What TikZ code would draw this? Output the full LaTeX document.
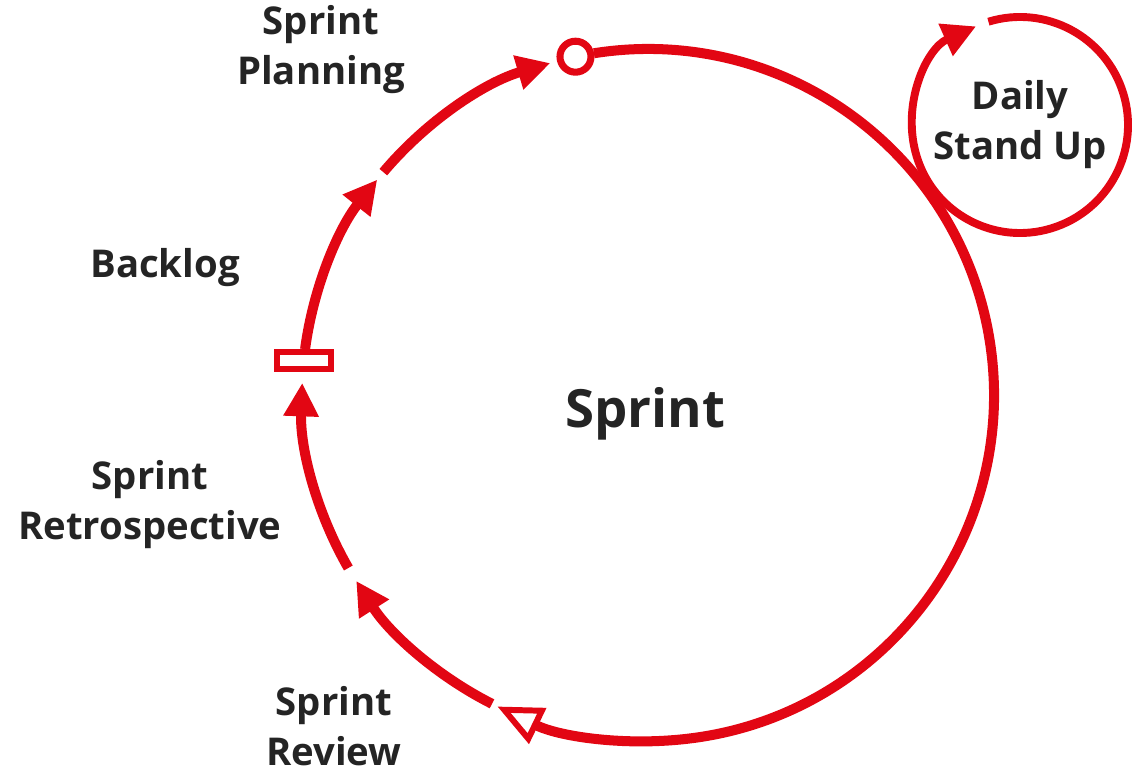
\documentclass[tikz,border=0pt]{standalone}
\usepackage{fontspec}
\setmainfont{Open Sans}
\usetikzlibrary{positioning,
        calc,
        shapes,
        arrows.meta}
\usepackage{xcolor}
\definecolor{sprintred}{RGB}{226,6,19}
\definecolor{inkgray}{RGB}{36,36,36}

\begin{document}
\begin{tikzpicture}[
    loopline/.style={draw=sprintred, line width=5.7pt},
    headtip/.style={-{Triangle[length=19pt,width=19pt]}},
    lbl/.style={align=center, text=inkgray, font=\fontsize{21.8}{28.5}\selectfont\bfseries}
  ]
  \useasboundingbox (0,0) rectangle (22.92,15.46);
  \def\R{6.92}
  \def\r{2.16}
  \coordinate (sprintc) at (12.96,7.56);
  \node [lbl, font=\fontsize{30}{36}\selectfont\bfseries] (sprint) at (12.9,7.18) {Sprint};

  % big loop: review -> retrospective -> backlog -> planning
  \coordinate (loopstart) at ([shift={(99:\R)}]sprintc);
  \draw [loopline, -{Triangle[open, length=25.5pt, width=22pt, line width=3.4pt]}] (loopstart) arc[start angle=99, end angle=-115.8, radius=\R];
  \foreach \a/\b in {-116.8/-147.5, -150/-182, 172.4/141.5, 139.9/106.4}
    \draw [loopline, headtip] ([shift={(\a:\R)}]sprintc) arc[start angle=\a, end angle=\b, radius=\R];

  % markers
  \node [circle, draw=sprintred, fill=white, line width=4pt, minimum size=0.62cm, inner sep=0pt] (planmark) at ([shift={(102.1:\R)}]sprintc) {};
  \node [rectangle, draw=sprintred, fill=white, line width=3.4pt, minimum width=1.08cm, minimum height=0.34cm, inner sep=0pt] (backmark) at ([shift={(174.3:\R)}]sprintc) {};

  % daily loop
  \node [lbl] (daily) at (20.4,12.96) {Daily\\Stand Up};
  \draw [draw=sprintred, line width=4.5pt, headtip] ([shift={(107:\r)}]daily.center) arc[start angle=107, end angle=-246, radius=\r];

  \node [lbl] (planning) at (6.42,14.46) {Sprint\\Planning};
  \node [lbl] (backlog) at (3.30,10.10) {Backlog};
  \node [lbl] (retro) at (3.00,5.36) {Sprint\\Retrospective};
  \node [lbl] (review) at (6.68,0.94) {Sprint\\Review};
\end{tikzpicture}
\end{document}
